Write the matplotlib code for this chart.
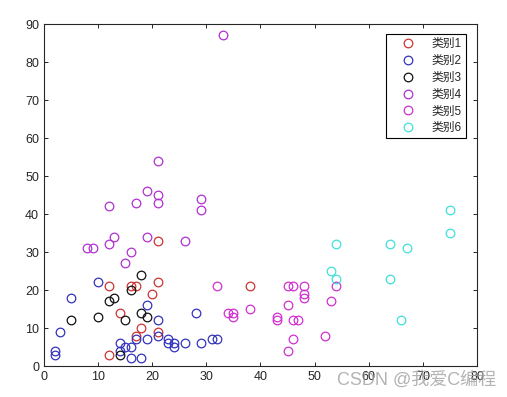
import numpy as np
import matplotlib
matplotlib.use("Agg")
import matplotlib.pyplot as plt

plt.rcParams['font.family'] = ['Liberation Sans', 'Noto Sans CJK SC', 'DejaVu Sans']

# données
x1 = [12, 21, 21, 16, 17, 20, 14, 18, 17, 21, 12, 38]
y1 = [21, 33, 22, 21, 21, 19, 14, 10, 8, 9, 3, 21]

x2 = [2, 2, 3, 5, 10, 14, 14, 15, 16, 16, 18, 17, 19, 19, 21, 21, 23, 23, 24, 24, 26, 28, 29, 31, 32]
y2 = [4, 3, 9, 18, 22, 6, 4, 5, 5, 2, 2, 7, 7, 16, 12, 8, 7, 6, 6, 5, 6, 14, 6, 7, 7]

x3 = [5, 10, 12, 13, 15, 16, 18, 18, 19, 14]
y3 = [12, 13, 17, 18, 12, 20, 24, 14, 13, 3]

x4 = [12, 17, 21, 21, 19, 21, 29, 29, 8, 9, 12, 13, 16, 15, 19, 26, 33]
y4 = [42, 43, 43, 54, 46, 45, 44, 41, 31, 31, 32, 34, 30, 27, 34, 33, 87]

x5 = [32, 34, 35, 35, 38, 43, 43, 45, 46, 48, 48, 48, 45, 46, 47, 46, 45, 52, 53, 54]
y5 = [21, 14, 14, 13, 15, 13, 12, 21, 21, 21, 19, 18, 16, 12, 12, 7, 4, 8, 17, 21]

x6 = [54, 53, 54, 64, 64, 67, 66, 75, 75]
y6 = [32, 25, 23, 32, 23, 31, 12, 41, 35]

labels = ['类别1', '类别2', '类别3', '类别4', '类别5', '类别6']
couleurs = ['#cc3333', '#3333bb', '#111111', '#b030d0', '#d030d0', '#40e0dc']

fig = plt.figure(figsize=(5.07, 3.97), dpi=100)
ax = fig.add_axes([0.0868, 0.078, 0.854, 0.8615])

series = [(x1, y1), (x2, y2), (x3, y3), (x4, y4), (x5, y5), (x6, y6)]
for (xs, ys), lab, c in zip(series, labels, couleurs):
    ax.plot(xs, ys, 'o', mfc='none', mec=c, mew=0.9, ms=6.2, label=lab)

ax.set_xlim(0, 80)
ax.set_ylim(0, 90)
ax.set_xticks(np.arange(0, 81, 10))
ax.set_yticks(np.arange(0, 91, 10))
ax.tick_params(direction='in', top=True, right=True, labelsize=9, length=3,
               width=0.7, colors='#262626')
for s in ax.spines.values():
    s.set_linewidth(0.8)
    s.set_color('#262626')

leg = ax.legend(loc='upper right', bbox_to_anchor=(0.9746, 0.9708), fontsize=8.5,
                fancybox=False, framealpha=1, edgecolor='black',
                handletextpad=0.55, labelspacing=0.41, borderpad=0.35,
                handlelength=3.0, borderaxespad=0)
leg.get_frame().set_linewidth(0.8)
for t in leg.get_texts():
    t.set_color('#262626')

# filigrane
fig.text(0.978, 0.043, 'CSDN @我爱C编程', ha='right', va='center', fontsize=13,
         color='#a0a0a0', alpha=0.8)

plt.savefig('out.png', dpi=100)
